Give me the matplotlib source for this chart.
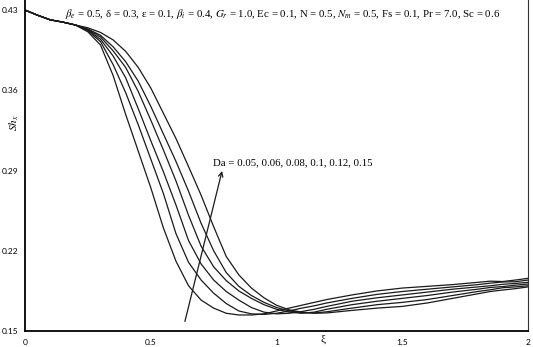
import matplotlib
matplotlib.use("Agg")
import matplotlib.pyplot as plt

plt.rcParams["mathtext.fontset"] = "stix"

# xi grid shared by all curves
xi = [0.0, 0.05, 0.1, 0.15, 0.2, 0.25, 0.3, 0.35, 0.4, 0.45, 0.5, 0.55,
      0.6, 0.65, 0.7, 0.75, 0.8, 0.85, 0.9, 0.95, 1.0, 1.05, 1.1, 1.15,
      1.2, 1.3, 1.4, 1.5, 1.6, 1.7, 1.8, 1.85, 1.9, 1.95, 2.0]

# Sh_x for Da = 0.05, 0.06, 0.08, 0.1, 0.12, 0.15
sh_da005 = [0.4300, 0.4255, 0.4215, 0.4195, 0.4170, 0.4110, 0.3995, 0.3730,
            0.3390, 0.3070, 0.2750, 0.2400, 0.2110, 0.1895, 0.1770, 0.1700,
            0.1655, 0.1640, 0.1640, 0.1650, 0.1675, 0.1700, 0.1725, 0.1750,
            0.1775, 0.1815, 0.1850, 0.1875, 0.1890, 0.1905, 0.1925, 0.1935,
            0.1932, 0.1945, 0.1960]
sh_da006 = [0.4300, 0.4255, 0.4215, 0.4195, 0.4170, 0.4120, 0.4025, 0.3825,
            0.3580, 0.3300, 0.3000, 0.2700, 0.2350, 0.2100, 0.1945, 0.1830,
            0.1740, 0.1675, 0.1650, 0.1645, 0.1655, 0.1675, 0.1700, 0.1720,
            0.1745, 0.1785, 0.1820, 0.1845, 0.1865, 0.1885, 0.1905, 0.1918,
            0.1928, 0.1930, 0.1945]
sh_da008 = [0.4300, 0.4255, 0.4215, 0.4195, 0.4170, 0.4125, 0.4045, 0.3900,
            0.3710, 0.3440, 0.3160, 0.2890, 0.2600, 0.2290, 0.2085, 0.1945,
            0.1845, 0.1770, 0.1705, 0.1665, 0.1650, 0.1655, 0.1670, 0.1690,
            0.1715, 0.1760, 0.1790, 0.1815, 0.1840, 0.1865, 0.1885, 0.1895,
            0.1908, 0.1915, 0.1925]
sh_da01 = [0.4300, 0.4255, 0.4215, 0.4195, 0.4170, 0.4130, 0.4065, 0.3945,
           0.3800, 0.3590, 0.3340, 0.3080, 0.2810, 0.2510, 0.2240, 0.2060,
           0.1940, 0.1850, 0.1785, 0.1730, 0.1690, 0.1665, 0.1655, 0.1665,
           0.1690, 0.1730, 0.1760, 0.1785, 0.1810, 0.1840, 0.1865, 0.1880,
           0.1888, 0.1900, 0.1910]
sh_da012 = [0.4300, 0.4255, 0.4215, 0.4195, 0.4170, 0.4135, 0.4080, 0.3980,
            0.3850, 0.3680, 0.3460, 0.3220, 0.2980, 0.2720, 0.2440, 0.2200,
            0.2010, 0.1890, 0.1810, 0.1750, 0.1705, 0.1675, 0.1660, 0.1658,
            0.1668, 0.1700, 0.1730, 0.1750, 0.1775, 0.1810, 0.1845, 0.1860,
            0.1878, 0.1885, 0.1895]
sh_da015 = [0.4300, 0.4255, 0.4215, 0.4195, 0.4170, 0.4145, 0.4105, 0.4040,
            0.3940, 0.3800, 0.3620, 0.3400, 0.3180, 0.2935, 0.2685, 0.2410,
            0.2150, 0.1990, 0.1875, 0.1790, 0.1725, 0.1685, 0.1665, 0.1655,
            0.1658, 0.1680, 0.1700, 0.1715, 0.1745, 0.1785, 0.1825, 0.1845,
            0.1858, 0.1870, 0.1885]

curves = [sh_da005, sh_da006, sh_da008, sh_da01, sh_da012, sh_da015]

yticks = [0.15, 0.22, 0.29, 0.36, 0.43]
xticks = [0, 0.5, 1, 1.5, 2]
xticklabels = ["0", "0.5", "1", "1.5", "2"]

fig = plt.figure(figsize=(5.33, 3.47), dpi=100)
ax = fig.add_axes([0.047, 0.046, 0.9437, 0.958])

for sh in curves:
    ax.plot(xi, sh, color="#1a1a1a", lw=0.9)

ax.set_xlim(0, 2)
ax.set_ylim(0.15, 0.44)
ax.set_xticks(xticks)
ax.set_xticklabels(xticklabels)
ax.set_yticks(yticks)
ax.set_yticklabels([f"{v:.2f}" for v in yticks])
ax.tick_params(axis="x", length=0, labelsize=6, pad=5.5)
ax.tick_params(axis="y", length=0, labelsize=6, pad=5)
for lab in ax.get_xticklabels() + ax.get_yticklabels():
    lab.set_family("Lato")

ax.spines["top"].set_visible(False)
ax.spines["left"].set_linewidth(1.3)
ax.spines["bottom"].set_linewidth(1.3)
ax.spines["right"].set_linewidth(0.8)
ax.spines["right"].set_color("#333333")

ax.set_xlabel("ξ", family="Liberation Serif", fontsize=8)
ax.xaxis.set_label_coords(0.5925, -0.012)
ax.set_ylabel(r"$Sh_x$", fontsize=8)
ax.yaxis.set_label_coords(-0.009, 0.626)

params = (r"$\beta_e$ = 0.5, δ = 0.3, ε = 0.1, $\beta_i$ = 0.4, $G_r$ = 1.0, "
          r"Ec = 0.1, N = 0.5, $N_m$ = 0.5, Fs = 0.1, Pr = 7.0, Sc = 0.6")
ax.text(0.159, 0.4265, params, family="Liberation Serif", fontsize=7.8,
        ha="left", va="center")

ax.annotate("", xy=(0.786, 0.292), xytext=(0.633, 0.156),
            arrowprops=dict(arrowstyle="->", color="#1a1a1a", lw=0.9,
                            mutation_scale=8))
ax.text(0.7475, 0.2966, "Da = 0.05, 0.06, 0.08, 0.1, 0.12, 0.15",
        family="Liberation Serif", fontsize=7.75, ha="left", va="center")

fig.savefig("out.png", dpi=100, facecolor="white")
